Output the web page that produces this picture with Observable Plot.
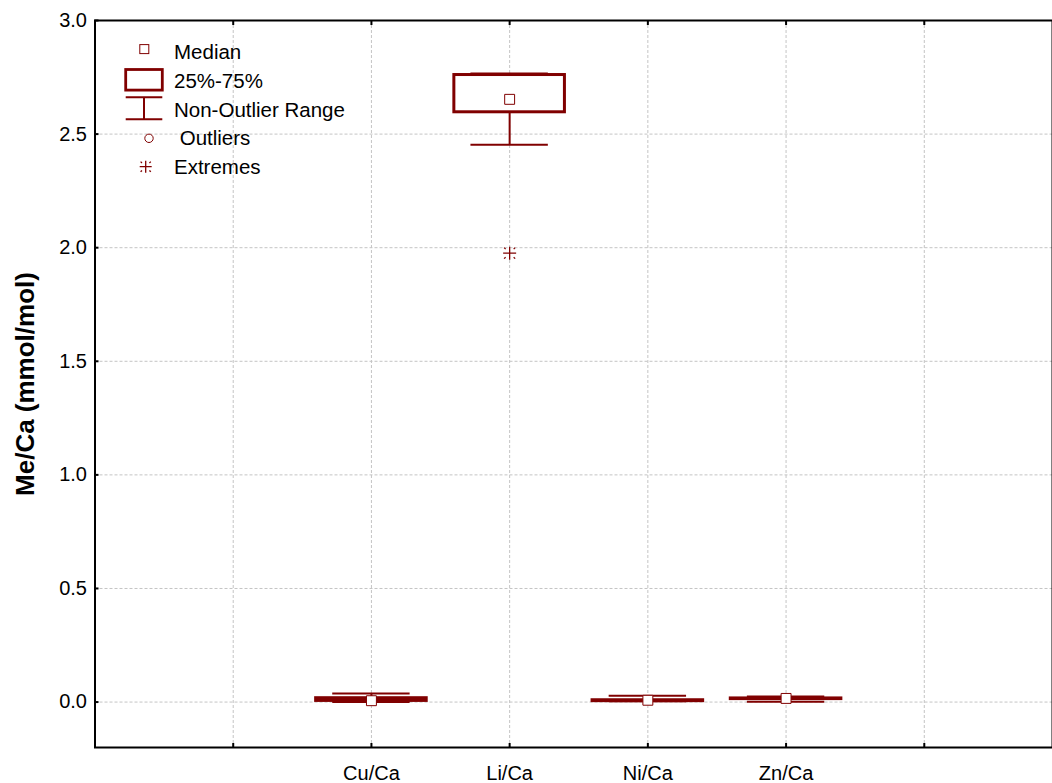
<!DOCTYPE html>
<html>
<head>
<meta charset="utf-8">
<script src="https://cdn.jsdelivr.net/npm/d3@7"></script>
<script src="https://cdn.jsdelivr.net/npm/@observablehq/plot@0.6"></script>
<style>
  html, body { margin: 0; padding: 0; background: #fff; }
  #chart svg { display: block; }
</style>
</head>
<body>
<div id="chart"></div>
<script>
// Box-plot summary of Me/Ca ratios (mmol/mol)
const categories = ["Cu/Ca", "Li/Ca", "Ni/Ca", "Zn/Ca"];
const lower  = [0.000, 2.453, 0.004, 0.001];
const q1     = [0.005, 2.596, 0.004, 0.013];
const median = [0.006, 2.653, 0.008, 0.016];
const q3     = [0.017, 2.760, 0.008, 0.016];
const upper  = [0.038, 2.767, 0.028, 0.025];

const extremeCategory = ["Li/Ca"];
const extremeValue = [1.976];

const yTicks = [0, 0.5, 1.0, 1.5, 2.0, 2.5, 3.0];
const yLabel = "Me/Ca (mmol/mol)";
const legendLabels = ["Median", "25%-75%", "Non-Outlier Range", " Outliers", "Extremes"];

const maroon = "#800000";
const gridColor = "#c4c4c4";

// categories sit in slots 2..5 of a 0..7 frame; slots 1..6 carry grid lines
const slotOf = c => categories.indexOf(c) + 2;
const slotTicks = [1, 2, 3, 4, 5, 6];

const rows = categories.map((c, i) => ({
  cat: c, x: slotOf(c),
  lower: lower[i], q1: q1[i], median: median[i], q3: q3[i], upper: upper[i]
}));
const extremes = extremeCategory.map((c, i) => ({x: slotOf(c), value: extremeValue[i]}));

// plus sign with short dotted diagonals
const starSymbol = {
  draw(ctx, size) {
    const r = Math.sqrt(size / Math.PI);
    ctx.moveTo(-r, 0); ctx.lineTo(r, 0);
    ctx.moveTo(0, -r); ctx.lineTo(0, r);
    const a = r * 0.62, b = r * 0.85;
    for (const [sx, sy] of [[1,1],[1,-1],[-1,1],[-1,-1]]) {
      ctx.moveTo(sx * a, sy * a); ctx.lineTo(sx * b, sy * b);
    }
  }
};

const W = 1052, H = 783;
const chart = Plot.plot({
  width: W,
  height: H,
  marginTop: 20,
  marginBottom: 36,
  marginLeft: 94.5,
  marginRight: 0,
  style: {fontFamily: "'Liberation Sans', Arial, sans-serif", fontSize: "20px", color: "#000", background: "#fff"},
  x: {domain: [0, 7], range: [94.5, 1062]},
  y: {domain: [-0.2, 3.0]},
  marks: [
    Plot.gridY(yTicks.filter(v => v < 3), {stroke: gridColor, strokeOpacity: 1, strokeDasharray: "3,2"}),
    Plot.gridX(slotTicks, {stroke: gridColor, strokeOpacity: 1, strokeDasharray: "3,2"}),
    Plot.frame({stroke: "#000", strokeWidth: 2}),
    Plot.axisY({ticks: yTicks, tickFormat: d3.format(".1f"), tickSize: -4, tickPadding: 12, strokeWidth: 2, label: null, fontSize: 20}),
    Plot.axisX({ticks: slotTicks, tickFormat: d => (categories[d - 2] ?? ""), tickSize: -4, tickPadding: 22, strokeWidth: 2, label: null, fontSize: 20}),
    Plot.axisX({anchor: "top", ticks: slotTicks, tickFormat: () => "", tickSize: -4, tickPadding: 0, strokeWidth: 2, label: null}),
    Plot.text([yLabel], {frameAnchor: "left", dx: -69, rotate: -90, textAnchor: "middle", text: d => d, fontWeight: "bold", fontSize: 26, fill: "#000"}),
    // whiskers and caps
    Plot.ruleX(rows, {x: "x", y1: "q3", y2: "upper", stroke: maroon, strokeWidth: 2}),
    Plot.ruleX(rows, {x: "x", y1: "q1", y2: "lower", stroke: maroon, strokeWidth: 2}),
    Plot.ruleY(rows, {y: "upper", x1: d => d.x - 0.28, x2: d => d.x + 0.28, stroke: maroon, strokeWidth: 2}),
    Plot.ruleY(rows, {y: "lower", x1: d => d.x - 0.28, x2: d => d.x + 0.28, stroke: maroon, strokeWidth: 2}),
    // interquartile boxes
    Plot.rect(rows, {x1: d => d.x - 0.4, x2: d => d.x + 0.4, y1: "q1", y2: "q3", fill: "#fff", stroke: maroon, strokeWidth: 3}),
    // medians
    Plot.dot(rows, {x: "x", y: "median", symbol: "square", r: 5.6, fill: "#fff", stroke: maroon, strokeWidth: 1}),
    // extremes
    Plot.dot(extremes, {x: "x", y: "value", symbol: starSymbol, r: 6.5, fill: "none", stroke: maroon, strokeWidth: 1.3})
  ]
});

// legend in the upper-left corner of the plot area
const svg = d3.select(chart);
const lg = svg.append("g")
  .attr("font-family", "'Liberation Sans', Arial, sans-serif")
  .attr("font-size", 20.5)
  .attr("text-anchor", "start");
const baselines = [59, 88.3, 117.3, 145, 174];
lg.selectAll("text").data(legendLabels).join("text")
  .attr("x", 174).attr("y", (d, i) => baselines[i])
  .attr("text-anchor", "start")
  .style("white-space", "pre").attr("fill", "#000").text(d => d);
lg.append("rect").attr("x", 139.8).attr("y", 44.6).attr("width", 9).attr("height", 9)
  .attr("fill", "#fff").attr("stroke", maroon).attr("stroke-width", 1);
lg.append("rect").attr("x", 125.7).attr("y", 69.5).attr("width", 36.6).attr("height", 20.6)
  .attr("fill", "#fff").attr("stroke", maroon).attr("stroke-width", 2.8);
lg.append("path").attr("d", "M125.7,97.3H162.3M125.7,119.3H162.3M144,97.3V119.3")
  .attr("fill", "none").attr("stroke", maroon).attr("stroke-width", 2);
lg.append("circle").attr("cx", 149).attr("cy", 138.3).attr("r", 4.2)
  .attr("fill", "#fff").attr("stroke", maroon).attr("stroke-width", 1);
lg.append("path").attr("d", d3.symbol(starSymbol, Math.PI * 6 * 6)())
  .attr("transform", "translate(145.7,166.7)")
  .attr("fill", "none").attr("stroke", maroon).attr("stroke-width", 1.3);

document.getElementById("chart").appendChild(chart);
</script>
</body>
</html>
